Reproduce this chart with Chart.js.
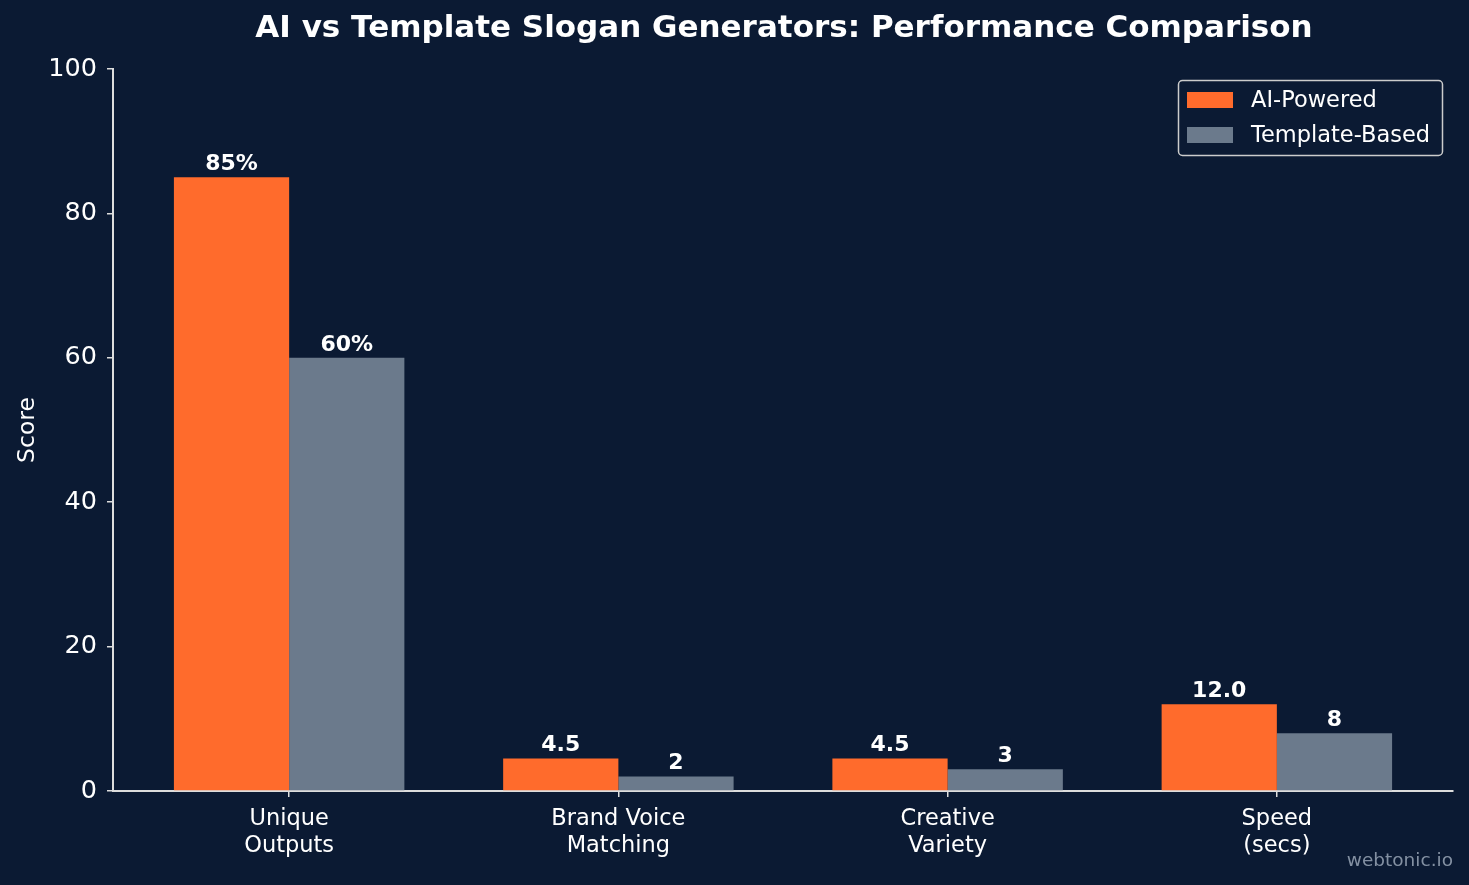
<!DOCTYPE html>
<html>
<head>
<meta charset="utf-8">
<script src="https://cdn.jsdelivr.net/npm/chart.js@4.4.1/dist/chart.umd.min.js"></script>
<style>
  html, body { margin: 0; padding: 0; background: #0b1a33; }
  #wrap { width: 1469px; height: 885px; }
</style>
</head>
<body>
<div id="wrap"><canvas id="chart" width="1469" height="885"></canvas></div>
<script>
const categories = [['Unique', 'Outputs'], ['Brand Voice', 'Matching'], ['Creative', 'Variety'], ['Speed', '(secs)']];
const aiValues = [85, 4.5, 4.5, 12];
const templateValues = [60, 2, 3, 8];
const aiLabels = ['85%', '4.5', '4.5', '12.0'];
const templateLabels = ['60%', '2', '3', '8'];
const yTicks = [0, 20, 40, 60, 80, 100];

const BG = '#0b1a33';
const ORANGE = '#ff6b2c';
const SLATE = '#6b7a8c';
const AXIS = '#dddddd';
const FONT = "'DejaVu Sans', sans-serif";

const toPoints = vals => vals.map((v, i) => ({ x: i, y: v }));

const bgPlugin = {
    id: 'bg',
    beforeDraw(chart) {
        const ctx = chart.ctx;
        ctx.save();
        ctx.fillStyle = BG;
        ctx.fillRect(0, 0, chart.width, chart.height);
        ctx.restore();
    }
};

const extrasPlugin = {
    id: 'extras',
    afterDatasetsDraw(chart) {
        const ctx = chart.ctx;
        ctx.save();
        // value labels
        ctx.fillStyle = '#ffffff';
        ctx.font = `bold 22px ${FONT}`;
        ctx.textAlign = 'center';
        ctx.textBaseline = 'bottom';
        const labelSets = [aiLabels, templateLabels];
        chart.data.datasets.forEach((ds, di) => {
            chart.getDatasetMeta(di).data.forEach((bar, i) => {
                ctx.fillText(labelSets[di][i], bar.x, bar.y - 2);
            });
        });
        ctx.restore();
    },
    afterDraw(chart) {
        const ctx = chart.ctx;
        ctx.save();
        // title
        ctx.fillStyle = '#ffffff';
        ctx.font = `bold 31px ${FONT}`;
        ctx.textAlign = 'center';
        ctx.textBaseline = 'middle';
        ctx.fillText('AI vs Template Slogan Generators: Performance Comparison', 784, 29);

        // legend
        const lx = 1178, ly = 80, lw = 264, lh = 75;
        ctx.fillStyle = BG;
        ctx.strokeStyle = '#cccccc';
        ctx.lineWidth = 1.5;
        ctx.beginPath();
        ctx.roundRect(lx + 0.5, ly + 0.5, lw, lh, 4);
        ctx.fill();
        ctx.stroke();
        ctx.font = `22.5px ${FONT}`;
        ctx.textAlign = 'left';
        ctx.textBaseline = 'middle';
        chart.data.datasets.forEach((ds, i) => {
            const cy = ly + 20 + i * 35;
            ctx.fillStyle = ds.backgroundColor;
            ctx.fillRect(lx + 9, cy - 8, 46, 16);
            ctx.fillStyle = '#ffffff';
            ctx.fillText(ds.label, lx + 73, cy + 1);
        });

        // watermark
        ctx.fillStyle = '#8390a2';
        ctx.font = `18.5px ${FONT}`;
        ctx.textAlign = 'right';
        ctx.fillText('webtonic.io', 1453, 861);
        ctx.restore();
    }
};

new Chart(document.getElementById('chart'), {
    type: 'bar',
    data: {
        datasets: [
            { label: 'AI-Powered', data: toPoints(aiValues), backgroundColor: ORANGE },
            { label: 'Template-Based', data: toPoints(templateValues), backgroundColor: SLATE }
        ]
    },
    options: {
        responsive: false,
        animation: false,
        events: [],
        categoryPercentage: 0.7,
        barPercentage: 1.0,
        layout: { padding: { top: 69, right: 16, bottom: 0, left: 0 } },
        plugins: {
            legend: { display: false },
            title: { display: false },
            tooltip: { enabled: false }
        },
        scales: {
            x: {
                type: 'linear',
                min: -0.535,
                max: 3.535,
                offset: false,
                afterFit: s => { s.height = 94; },
                afterBuildTicks: s => { s.ticks = categories.map((c, i) => ({ value: i })); },
                border: { display: true, color: AXIS, width: 2 },
                grid: { display: true, offset: false, drawOnChartArea: false, drawTicks: true, tickLength: 6, color: AXIS, lineWidth: 1.5 },
                ticks: {
                    color: '#ffffff',
                    font: { family: FONT, size: 22.5, lineHeight: 1.2 },
                    padding: 9,
                    maxRotation: 0,
                    callback: v => categories[v]
                }
            },
            y: {
                min: 0,
                max: 100,
                afterFit: s => { s.width = 113; },
                afterBuildTicks: s => { s.ticks = yTicks.map(v => ({ value: v })); },
                border: { display: true, color: AXIS, width: 2 },
                grid: { display: true, drawOnChartArea: false, drawTicks: true, tickLength: 6, color: AXIS, lineWidth: 1.5 },
                ticks: {
                    color: '#ffffff',
                    font: { family: FONT, size: 25.5 },
                    padding: 10
                },
                title: {
                    display: true,
                    text: 'Score',
                    color: '#ffffff',
                    font: { family: FONT, size: 23.5 },
                    padding: { top: 14, bottom: 0 }
                }
            }
        }
    },
    plugins: [bgPlugin, extrasPlugin]
});
</script>
</body>
</html>
